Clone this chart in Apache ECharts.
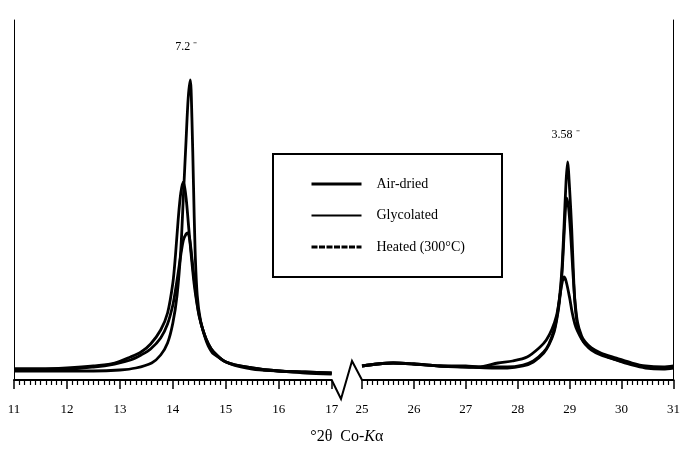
<!DOCTYPE html>
<html><head><meta charset="utf-8">
<script src="https://cdn.jsdelivr.net/npm/echarts@6/dist/echarts.min.js"></script>
<style>html,body{margin:0;padding:0;background:#fff}#c{width:683px;height:450px}</style>
</head><body><div id="c"></div>
<script>
const seriesNames = ['Air-dried', 'Glycolated', 'Heated (300°C)'];
const leftRange = [11, 17];
const rightRange = [25, 31];
const peakLabels = ['7.2 ⁻', '3.58 ⁻'];

// Left segment (°2θ 11–17)
const airDriedLeft = [[11.0,9],[11.5,9],[12.0,9],[12.5,9],[13.0,10],[13.3,12],[13.6,17],[13.77,25],[13.9,37],[14.0,57],[14.08,85],[14.15,130],[14.2,185],[14.25,240],[14.29,282],[14.33,300],[14.36,262],[14.39,195],[14.42,130],[14.46,85],[14.52,60],[14.6,44],[14.67,34],[14.77,26],[15.09,16],[15.5,11],[16.0,9],[16.5,7],[17.0,6]];
const glycolatedLeft = [[11.0,11],[11.5,11],[12.0,12],[12.5,14],[12.9,17],[13.2,23],[13.4,28],[13.58,36],[13.77,50],[13.9,67],[14.0,97],[14.05,125],[14.1,160],[14.15,187],[14.2,198],[14.25,182],[14.3,152],[14.35,123],[14.4,97],[14.45,78],[14.5,63],[14.58,48],[14.67,36],[14.77,28],[15.0,18],[15.5,12],[16.0,9],[16.5,8],[17.0,7]];
const heatedLeft = [[11.0,11],[11.5,11],[12.0,11],[12.5,13],[12.9,16],[13.2,20],[13.4,25],[13.58,31],[13.77,42],[13.9,56],[14.0,75],[14.05,90],[14.1,107],[14.15,125],[14.2,140],[14.25,146],[14.28,147],[14.32,140],[14.36,122],[14.4,102],[14.45,80],[14.5,64],[14.58,48],[14.67,36],[14.77,28],[15.0,18],[15.5,12],[16.0,9],[16.5,8],[17.0,7]];

// Right segment (°2θ 25–31)
const airDriedRight = [[25.0,14],[25.3,16],[25.6,17],[26.0,16],[26.5,14],[27.0,13],[27.5,13],[27.8,13],[28.1,15],[28.3,19],[28.5,28],[28.6,36],[28.7,50],[28.75,62],[28.8,80],[28.85,110],[28.89,152],[28.93,198],[28.96,218],[29.0,190],[29.04,150],[29.07,110],[29.1,78],[29.15,55],[29.23,42],[29.3,36],[29.42,30],[29.6,25],[29.9,20],[30.2,15],[30.46,12],[30.8,11],[31.0,12]];
const glycolatedRight = [[25.0,14],[25.3,16],[25.6,17],[26.0,16],[26.5,14],[27.0,13],[27.5,12],[27.8,12],[28.1,14],[28.3,18],[28.5,27],[28.6,35],[28.7,48],[28.75,60],[28.8,77],[28.85,105],[28.89,143],[28.92,172],[28.94,182],[28.98,172],[29.02,145],[29.06,110],[29.1,80],[29.15,58],[29.23,44],[29.3,38],[29.42,32],[29.6,27],[29.9,22],[30.2,17],[30.46,14],[30.8,13],[31.0,14]];
const heatedRight = [[25.0,14],[25.3,16],[25.6,17],[26.0,16],[26.5,14],[27.0,14],[27.24,13],[27.62,17],[27.9,19],[28.18,23],[28.43,33],[28.55,40],[28.66,51],[28.75,65],[28.8,80],[28.85,96],[28.89,103],[28.93,99],[29.0,82],[29.05,67],[29.1,56],[29.15,49],[29.23,41],[29.3,36],[29.42,31],[29.6,26],[29.9,20],[30.2,16],[30.46,13],[30.8,12],[31.0,13]];

const FONT = 'Liberation Serif';
const plotLine = {color:'#000', width:2.8, type:'solid'};
const legendLines = [
  {color:'#000', width:3, type:'solid'},
  {color:'#000', width:2, type:'solid'},
  {color:'#000', width:3, type:[6,1.5]}
];
const leftData = [airDriedLeft, glycolatedLeft, heatedLeft];
const rightData = [airDriedRight, glycolatedRight, heatedRight];

function xAxisCfg(gi, range){
  return {type:'value', gridIndex:gi, min:range[0], max:range[1], interval:1,
    axisLine:{onZero:false, lineStyle:{color:'#000', width:2}},
    axisTick:{length:9, lineStyle:{color:'#000', width:1.5}},
    minorTick:{show:true, splitNumber:10, length:5, lineStyle:{color:'#000', width:1.2}},
    axisLabel:{color:'#000', fontFamily:FONT, fontSize:13, margin:23},
    splitLine:{show:false}};
}
function yAxisCfg(gi, pos){
  return {type:'value', gridIndex:gi, min:0, max:360, position:pos,
    axisLine:{show:true, lineStyle:{color:'#000', width:1}},
    axisTick:{show:false}, axisLabel:{show:false}, splitLine:{show:false}};
}
const series = [];
seriesNames.forEach((n,i)=>{
  series.push({name:n, type:'line', xAxisIndex:0, yAxisIndex:0, data:leftData[i], showSymbol:false, symbol:'none', smooth:0.3, lineStyle:plotLine, itemStyle:{color:'#000'}, z:3-i});
  series.push({name:n, type:'line', xAxisIndex:1, yAxisIndex:1, data:rightData[i], showSymbol:false, symbol:'none', smooth:0.3, lineStyle:plotLine, itemStyle:{color:'#000'}, z:3-i});
});

const chart = echarts.init(document.getElementById('c'), null, {renderer:'canvas'});
chart.setOption({
  animation:false,
  backgroundColor:'#fff',
  grid:[{left:14, right:351.3, top:20, bottom:70}, {left:362, right:4.3, top:20, bottom:70}],
  xAxis:[xAxisCfg(0, leftRange), xAxisCfg(1, rightRange)],
  yAxis:[yAxisCfg(0,'left'), yAxisCfg(1,'right')],
  legend:{show:true, orient:'vertical', left:310, top:177, padding:0, itemWidth:50, itemHeight:14, itemGap:17.5,
    itemStyle:{opacity:0},
    data:seriesNames.map((n,i)=>({name:n, lineStyle:legendLines[i], itemStyle:{opacity:0}})),
    textStyle:{color:'#000', fontFamily:FONT, fontSize:14, padding:[0,0,0,10]}},
  series:series
});

function peakOf(arr){ return arr.reduce((a,b)=> b[1]>a[1]?b:a); }
const pL = chart.convertToPixel({gridIndex:0}, peakOf(airDriedLeft));
const pR = chart.convertToPixel({gridIndex:1}, peakOf(airDriedRight));
const a = chart.convertToPixel({gridIndex:0}, [leftRange[1], 0]);
const d = chart.convertToPixel({gridIndex:1}, [rightRange[0], 0]);
chart.setOption({graphic:[
  {type:'polyline', shape:{points:[a, [a[0]+9.3, a[1]+19], [d[0]-10, d[1]-19], d]}, style:{stroke:'#000', lineWidth:2, fill:null}},
  {type:'rect', shape:{x:273, y:154, width:229, height:123}, style:{stroke:'#000', lineWidth:2, fill:null}},
  {type:'text', x:pL[0]-4, y:pL[1]-33, style:{text:peakLabels[0], font:'12px "Liberation Serif"', fill:'#000', align:'center', verticalAlign:'middle'}},
  {type:'text', x:pR[0]-2, y:pR[1]-27, style:{text:peakLabels[1], font:'12px "Liberation Serif"', fill:'#000', align:'center', verticalAlign:'middle'}},
  {type:'text', x:(a[0]+d[0])/2, y:437, style:{text:'{n|°2θ  Co-}{i|K}{n|α}', align:'center', verticalAlign:'middle',
    rich:{n:{fontFamily:FONT, fontSize:16, fill:'#000'}, i:{fontFamily:FONT, fontSize:16, fontStyle:'italic', fill:'#000'}}}}
]});
</script></body></html>
